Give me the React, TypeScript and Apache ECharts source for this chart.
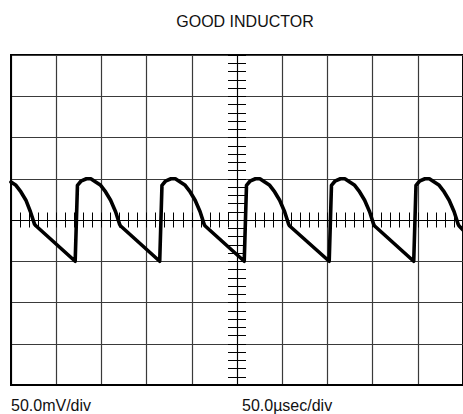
import React, { useEffect, useRef } from "react";
import * as echarts from "echarts";

const titleText = "GOOD INDUCTOR";
const voltScaleLabel = "50.0mV/div";
const timeScaleLabel = "50.0\u00b5sec/div";

// time in microseconds (50 µs/div, 10 divisions)
const timeUs = [
  0, 5.5, 11, 16.5, 21.5, 26, 27.5, 71,
  73.5, 77.3, 83.4, 88.3, 93.7, 99.2, 104.7, 110.2, 115.7, 120.1, 121, 164.5,
  167, 170.8, 176.9, 181.8, 187.2, 192.7, 198.2, 203.7, 209.2, 213.6, 214.5, 258,
  260.5, 264.3, 270.4, 275.3, 280.7, 286.2, 291.7, 297.2, 302.7, 307.1, 308, 352,
  354.5, 358.3, 364.4, 369.3, 374.7, 380.2, 385.7, 391.2, 396.7, 401.1, 402, 445.5,
  448, 451.8, 457.9, 462.8, 468.2, 473.7, 479.2, 484.7, 490.2, 494.6, 495.5, 500,
];
// voltage in millivolts (50 mV/div, 8 divisions)
const voltageMv = [
  46, 42, 34, 24, 10, -5, -7, -50,
  42, 47, 50, 50, 46, 42, 34, 24, 10, -5, -7, -50,
  42, 47, 50, 50, 46, 42, 34, 24, 10, -5, -7, -50,
  42, 47, 50, 50, 46, 42, 34, 24, 10, -5, -7, -50,
  42, 47, 50, 50, 46, 42, 34, 24, 10, -5, -7, -50,
  42, 47, 50, 50, 46, 42, 34, 24, 10, -5, -7, -12,
];

const timeMin = 0;
const timeMax = 500;
const timeDiv = 50;
const voltMin = -200;
const voltMax = 200;
const voltDiv = 50;

const FONT = "'Liberation Sans', Arial, Helvetica, sans-serif";

export default function App() {
  const ref = useRef<HTMLDivElement>(null);

  useEffect(() => {
    if (!ref.current) return;
    const chart = echarts.init(ref.current, null, { renderer: "svg" });
    const gridColor = "#3a3a3a";
    const hidden = { show: false };
    const centerX = (inside: boolean) => ({
      type: "value",
      min: -(timeMax - timeMin) / 2,
      max: (timeMax - timeMin) / 2,
      interval: timeDiv,
      position: "bottom",
      axisLine: { show: true, onZero: true, onZeroAxisIndex: 0, lineStyle: { color: "#000", width: 1 } },
      axisTick: { show: true, inside, length: 7.5, lineStyle: { color: "#000", width: 1 } },
      minorTick: { show: true, splitNumber: 5, length: 7.5, lineStyle: { color: "#000", width: 1 } },
      axisLabel: hidden,
      splitLine: hidden,
    });
    const centerY = (inside: boolean) => ({
      type: "value",
      min: voltMin,
      max: voltMax,
      interval: voltDiv,
      position: "left",
      axisLine: { show: true, onZero: true, onZeroAxisIndex: 1, lineStyle: { color: "#000", width: 1 } },
      axisTick: { show: true, inside, length: 9, lineStyle: { color: "#000", width: 1 } },
      minorTick: { show: true, splitNumber: 5, length: 9, lineStyle: { color: "#000", width: 1 } },
      axisLabel: hidden,
      splitLine: hidden,
    });
    const data = timeUs.map((t, i) => [t, voltageMv[i]]);
    chart.setOption({
      animation: false,
      backgroundColor: "#fff",
      title: {
        text: titleText,
        left: 240,
        textAlign: "center",
        top: 8,
        textStyle: { fontFamily: FONT, fontSize: 16, fontWeight: "normal", color: "#111" },
      },
      graphic: [
        {
          type: "text",
          left: 11,
          top: 397,
          style: { text: voltScaleLabel, font: `16px ${FONT}`, fill: "#111" },
        },
        {
          type: "text",
          left: 242,
          top: 397,
          style: { text: timeScaleLabel, font: `16px ${FONT}`, fill: "#111" },
        },
      ],
      grid: {
        left: 11,
        top: 55,
        width: 455,
        height: 330,
        show: true,
        borderColor: "#000",
        borderWidth: 2,
        backgroundColor: "transparent",
        containLabel: false,
      },
      xAxis: [
        {
          type: "value",
          min: timeMin,
          max: timeMax,
          interval: timeDiv,
          position: "bottom",
          axisLine: { show: true, onZero: false, lineStyle: { color: "#000", width: 2 } },
          axisTick: hidden,
          axisLabel: hidden,
          splitLine: { show: true, lineStyle: { color: gridColor, width: 1.2 } },
        },
        centerX(false),
        centerX(true),
      ],
      yAxis: [
        {
          type: "value",
          min: voltMin,
          max: voltMax,
          interval: voltDiv,
          position: "left",
          axisLine: { show: true, onZero: false, lineStyle: { color: "#000", width: 2 } },
          axisTick: hidden,
          axisLabel: hidden,
          splitLine: { show: true, lineStyle: { color: gridColor, width: 1.2 } },
        },
        centerY(false),
        centerY(true),
      ],
      series: [
        {
          type: "line",
          xAxisIndex: 0,
          yAxisIndex: 0,
          data,
          showSymbol: false,
          symbol: "none",
          lineStyle: { color: "#000", width: 3.6, cap: "round", join: "round" },
          z: 5,
        },
      ],
    });
    return () => chart.dispose();
  }, []);

  return (
    <div
      ref={ref}
      style={{ position: "fixed", left: 0, top: 0, width: 463, height: 414, background: "#fff" }}
    />
  );
}
